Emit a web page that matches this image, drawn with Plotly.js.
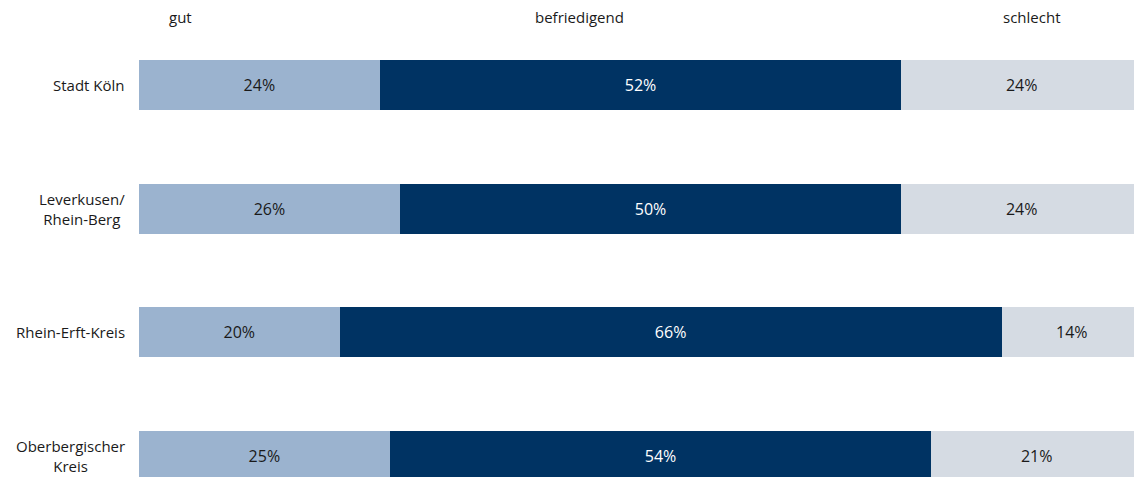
<!DOCTYPE html>
<html><head><meta charset="utf-8">
<script src="https://cdn.plot.ly/plotly-3.0.1.min.js"></script>
<style>html,body{margin:0;padding:0;background:#fff}</style>
</head><body>
<div id="chart" style="width:1134px;height:477px"></div>
<script>
const categories = ["Stadt Köln", "Leverkusen/<br>Rhein-Berg", "Rhein-Erft-Kreis", "Oberbergischer<br>Kreis"];
const seriesNames = ["gut", "befriedigend", "schlecht"];
const gut = [24, 26, 20, 25];
const befriedigend = [52, 50, 66, 54];
const schlecht = [24, 24, 14, 21];

const colors = ["#9bb3cf", "#003363", "#d5dbe3"];
const textColors = ["#1a1a1a", "#ffffff", "#1a1a1a"];
const FONT = "Open Sans, Roboto, sans-serif";
const values = [gut, befriedigend, schlecht];

const traces = values.map((v, i) => ({
  type: "bar",
  orientation: "h",
  name: seriesNames[i],
  y: categories,
  x: v,
  width: 0.404,
  marker: {color: colors[i], line: {width: 0}},
  text: v.map(d => d + "%"),
  textposition: "inside",
  insidetextanchor: "middle",
  textfont: {family: FONT, size: 16, color: textColors[i]},
  constraintext: "none",
  hoverinfo: "skip"
}));

const headerX = [0.042, 0.443, 0.897];
const annotations = seriesNames.map((s, i) => ({
  text: s, xref: "paper", yref: "paper", x: headerX[i], y: 0.964,
  xanchor: "center", yanchor: "middle", showarrow: false,
  font: {family: FONT, size: 15, color: "#1a1a1a"}
})).concat(categories.map(c => ({
  text: c, xref: "paper", yref: "y", x: 0, y: c, xshift: -12,
  xanchor: "right", yanchor: "middle", align: "center", showarrow: false,
  font: {family: FONT, size: 15, color: "#1a1a1a"}
})));

const layout = {
  width: 1134, height: 477,
  margin: {l: 139, r: 0, t: 0, b: 0},
  barmode: "stack",
  showlegend: false,
  paper_bgcolor: "#fff", plot_bgcolor: "#fff",
  xaxis: {range: [0, 99.2], visible: false, fixedrange: true},
  yaxis: {type: "category", range: [3.17, -0.687], showticklabels: false,
          showgrid: false, zeroline: false, showline: false, ticks: ""},
  annotations: annotations,
  font: {family: FONT}
};

Plotly.newPlot("chart", traces, layout, {staticPlot: true, displayModeBar: false});
</script>
</body></html>
